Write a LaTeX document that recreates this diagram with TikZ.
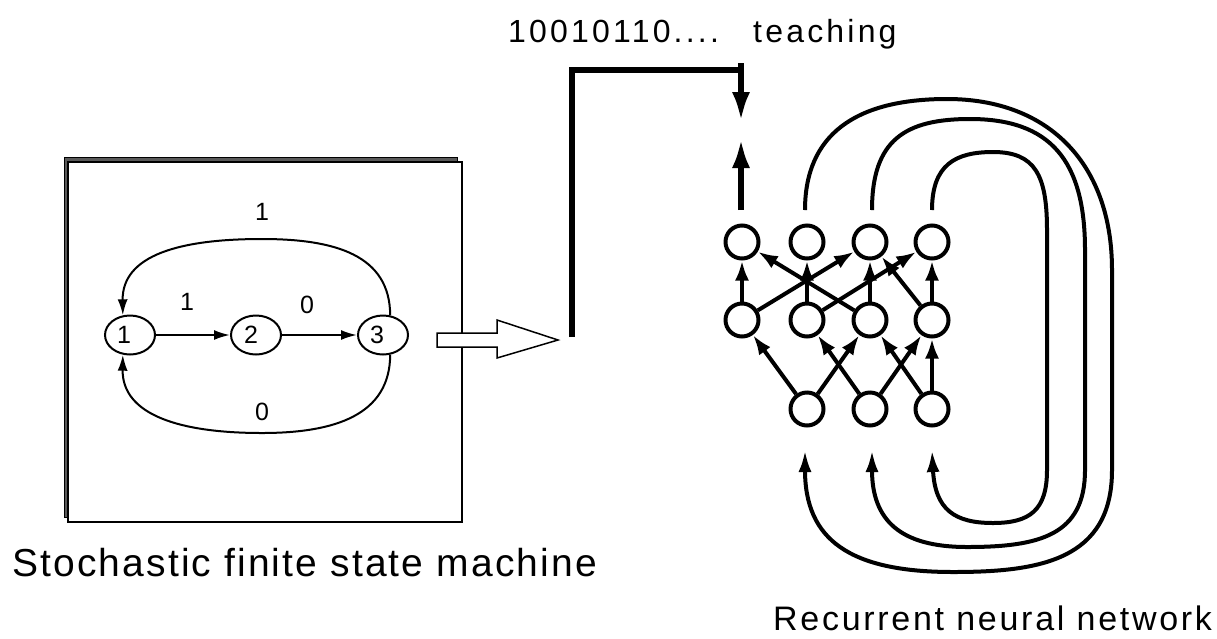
\documentclass[tikz,border=0pt]{standalone}
\usepackage{fontspec}
\setmainfont{Liberation Sans}
\newfontfamily\headfont{Liberation Sans}[LetterSpace=10]
\newfontfamily\capfont{Liberation Sans}[LetterSpace=5.5]
\newfontfamily\netcapfont{Liberation Sans}[LetterSpace=8]
\usetikzlibrary{arrows.meta,shapes.geometric}

\begin{document}
\begin{tikzpicture}[x=1pt,y=-1pt,
  state/.style={draw, line width=2pt, ellipse, minimum width=50pt,
    minimum height=39pt, inner sep=0pt},
  digit/.style={font=\fontsize{25}{25}\selectfont, inner sep=0pt},
  fsmedge/.style={line width=2pt, -{Latex[length=16pt,width=10pt]}},
  neuron/.style={draw, circle, line width=4pt, minimum size=33pt, inner sep=0pt},
  link/.style={line width=4pt, -{Latex[length=20pt,width=14pt]}},
  feedback/.style={line width=4pt, -{Latex[length=22pt,width=13pt]}},
  teachline/.style={line width=6.5pt},
  teacharrow/.style={line width=6.5pt, -{Latex[length=30pt,width=18pt]}},
  caption/.style={inner sep=0pt, anchor=base west},
]
\useasboundingbox (0,0) rectangle (1217,638);

% ---- stochastic finite state machine panel ----
\draw[fill=black!65, line width=1pt] (64,157) rectangle (457,517);
\draw[fill=white, line width=1.5pt] (68,162) rectangle (462,522);

\node[state, label={[digit,xshift=-6pt]center:1}] (s1) at (130,335) {};
\node[state, label={[digit,xshift=-5pt]center:2}] (s2) at (256,335) {};
\node[state, label={[digit,xshift=-6pt]center:3}] (s3) at (383,335) {};

\draw[fsmedge] (s1) -- (s2);
\draw[fsmedge] (s2) -- (s3);
\draw[fsmedge] (s3.70) .. controls (390,255) and (335,239) .. (262,239)
  .. controls (180,239) and (122,255) .. (s1.110);
\draw[fsmedge] (s3.-70) .. controls (390,415) and (335,433) .. (262,433)
  .. controls (180,433) and (122,415) .. (s1.-110);

\node[digit] (l13) at (262,212) {1};
\node[digit] (l12) at (187,302) {1};
\node[digit] (l23) at (307,305) {0};
\node[digit] (l31) at (262,412) {0};

% ---- hollow conversion arrow ----
\draw[line width=1.5pt, fill=white] (437,333) -- (497,333) -- (497,320)
  -- (558,340) -- (497,358) -- (497,347) -- (437,347) -- cycle;

% ---- recurrent network ----
\foreach \i/\x in {1/742,2/807,3/870,4/932} {
  \node[neuron] (t\i) at (\x,242) {};
  \node[neuron] (m\i) at (\x,320) {};
}
\node[neuron] (b1) at (807,409) {};
\node[neuron] (b2) at (870,409) {};
\node[neuron] (b3) at (932,409) {};

\foreach \a/\b in {m1/t1,m1/t3,m2/t2,m2/t4,m3/t1,m3/t3,m4/t3,m4/t4,
                   b1/m1,b1/m3,b2/m2,b2/m4,b3/m3,b3/m4}
  \draw[link] (\a) -- (\b);

% teaching signal and output
\coordinate (tsrc) at (572,337);
\coordinate (tbend) at (741,70);
\coordinate (ttop) at (741,63);
\coordinate (ttip) at (741,122);
\coordinate (obase) at (741,210);
\coordinate (otip) at (741,138);
\draw[teachline] (tsrc) |- (tbend);
\draw[teacharrow] (ttop) -- (ttip);
\draw[teacharrow] (obase) -- (otip);

% recurrent feedback loops
\coordinate (f2) at (805,210);
\coordinate (f3) at (872,210);
\coordinate (f4) at (932,210);
\coordinate (i1) at (805,450);
\coordinate (i2) at (872,450);
\coordinate (i3) at (932,450);
\draw[feedback] (f2) .. controls (805,135) and (855,99) .. (947,99)
  .. controls (1050,99) and (1112,165) .. (1112,270) -- (1112,470)
  .. controls (1112,560) and (1040,572) .. (953,572)
  .. controls (850,572) and (805,540) .. (i1);
\draw[feedback] (f3) .. controls (872,140) and (905,119) .. (970,119)
  .. controls (1050,119) and (1085,160) .. (1085,250) -- (1085,470)
  .. controls (1085,535) and (1040,547) .. (967,547)
  .. controls (900,547) and (872,520) .. (i2);
\draw[feedback] (f4) .. controls (932,165) and (955,152) .. (993,152)
  .. controls (1035,152) and (1047,175) .. (1047,230) -- (1047,470)
  .. controls (1047,510) and (1030,523) .. (993,523)
  .. controls (955,523) and (935,510) .. (i3);

% ---- texts ----
\node[caption, font=\headfont\fontsize{32}{32}\selectfont] (bits) at (508,42) {10010110....};
\node[caption, font=\headfont\fontsize{32}{32}\selectfont] (teach) at (753,42) {teaching};
\node[caption, font=\capfont\fontsize{39}{39}\selectfont] (fsmcap) at (12,576) {Stochastic finite state machine};
\node[caption, font=\netcapfont\fontsize{34}{34}\selectfont] (rnncap) at (773,630) {Recurrent neural network};
\end{tikzpicture}
\end{document}
